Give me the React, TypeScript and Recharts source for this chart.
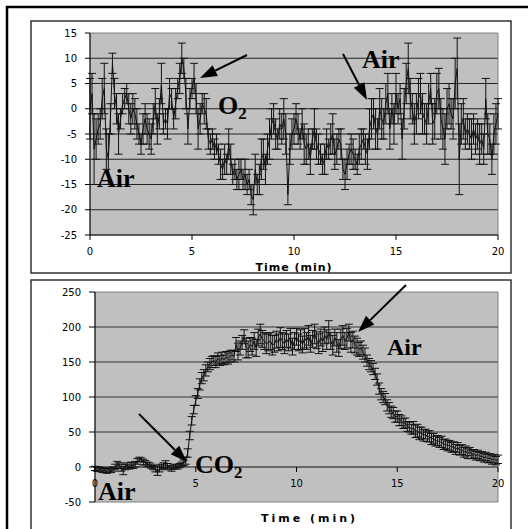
import React from 'react';
import {
  CartesianGrid,
  ErrorBar,
  Label,
  Line,
  LineChart,
  ReferenceArea,
  ReferenceLine,
  XAxis,
  YAxis,
} from 'recharts';

// sampling: one reading every 0.1 min, 0..20 min
const STEP_MIN = 0.1;

const o2Mean = [
  0, 3, -8, -6, -4, -3, 2, 4, -8, -10,
  -2, 9, 3, 0, -5, -2, 1, 2, 3, 0,
  -2, 0, -1, -3, -5, -7, -4, -2, -4, -5,
  -6, -2, 1, -4, -1, 5, -3, -2, -3, 3,
  2, -2, 1, 4, 6, 10, 8, 3, -4, 2,
  4, 6, 2, -4, -2, 1, 0, -1, -6, -7,
  -6, -8, -7, -9, -11, -12, -10, -11, -7, -10,
  -13, -12, -14, -13, -12, -14, -13, -15, -14, -17,
  -18, -12, -15, -14, -10, -9, -12, -8, -6, -3,
  -2, -5, -6, -3, -4, -2, -5, -17, -8, -5,
  -4, -2, -4, -6, -3, -7, -8, -7, -10, -6,
  -4, -7, -8, -9, -11, -10, -7, -8, -6, -5,
  -9, -8, -6, -7, -12, -13, -11, -9, -8, -9,
  -10, -11, -8, -7, -6, -8, -9, -4, -2, -1,
  -4, -5, 0, -2, -3, 1, 3, -4, 0, -3,
  3, 0, 2, -6, 0, 5, 8, 2, 0, -3,
  -1, 2, 3, -1, -2, -3, 1, 4, -3, -2,
  3, 4, -2, -4, -6, 0, 1, -1, -2, 5,
  8, -10, -3, -2, -5, -4, -5, -6, -4, -6,
  -5, -7, -6, -8, 2, -5, -6, -10, -5, -3,
  -1,
];

const o2Err = [
  6, 4, 7, 4, 3, 3, 4, 5, 4, 5,
  3, 2, 3, 3, 4, 2, 2, 2, 2, 3,
  3, 3, 3, 3, 2, 2, 3, 3, 3, 3,
  3, 3, 3, 3, 3, 4, 2, 2, 3, 3,
  2, 2, 3, 2, 3, 3, 2, 3, 3, 2,
  2, 3, 3, 4, 3, 2, 3, 3, 2, 2,
  2, 2, 2, 2, 3, 2, 3, 2, 3, 3,
  2, 2, 2, 3, 2, 2, 3, 2, 2, 2,
  3, 3, 2, 3, 4, 3, 3, 3, 4, 3,
  3, 3, 2, 3, 3, 4, 4, 2, 3, 3,
  3, 3, 3, 2, 3, 4, 3, 3, 3, 2,
  4, 3, 3, 2, 2, 3, 3, 2, 3, 4,
  3, 3, 2, 3, 2, 3, 3, 2, 3, 3,
  2, 2, 3, 3, 2, 3, 3, 4, 4, 3,
  4, 3, 4, 4, 3, 4, 4, 4, 3, 4,
  4, 3, 3, 4, 4, 4, 5, 4, 3, 4,
  4, 4, 4, 4, 3, 4, 4, 3, 4, 4,
  4, 4, 4, 4, 5, 4, 4, 3, 4, 5,
  6, 7, 4, 4, 3, 3, 3, 4, 3, 3,
  3, 4, 3, 3, 4, 4, 3, 3, 4, 4,
  3,
];

const co2Mean = [
  -2, -3, -3, -4, -5, -5, -6, -4, -5, -3,
  0, 3, 2, -1, -5, 0, 2, 0, 3, 2,
  4, 8, 11, 10, 7, 6, 4, 3, 1, -1,
  -3, -6, -2, 0, 2, 4, 1, -1, -3, 0,
  1, 0, 2, 4, 6, 9, 20, 45, 66, 82,
  95, 105, 118, 127, 131, 138, 143, 147, 150, 152,
  150, 155, 152, 156, 153, 157, 155, 158, 160, 158,
  175, 165, 170, 178, 186, 170, 168, 175, 172, 180,
  170, 185, 190, 183, 180, 176, 178, 180, 174, 176,
  182, 178, 185, 180, 176, 183, 178, 184, 172, 180,
  186, 178, 182, 175, 184, 180, 188, 176, 183, 190,
  181, 176, 185, 179, 188, 182, 193, 180, 174, 185,
  178, 170, 183, 188, 180, 184, 192, 178, 182, 175,
  172, 168, 170, 164, 160, 152, 147, 144, 140, 133,
  125, 112, 104, 100, 97, 88, 84, 79, 77, 72,
  72, 67, 66, 62, 63, 58, 57, 54, 56, 51,
  52, 48, 49, 45, 47, 43, 44, 40, 41, 37,
  38, 35, 36, 32, 33, 30, 31, 28, 29, 25,
  28, 24, 25, 21, 23, 19, 22, 18, 19, 16,
  18, 15, 16, 13, 15, 12, 13, 10, 12, 9,
  11,
];

const co2Err = [
  3, 3, 3, 3, 3, 3, 3, 3, 3, 3,
  4, 5, 4, 5, 6, 4, 4, 3, 4, 4,
  4, 4, 3, 3, 4, 3, 3, 3, 3, 3,
  4, 6, 5, 4, 4, 5, 4, 3, 3, 3,
  3, 3, 3, 3, 4, 5, 6, 6, 6, 6,
  7, 7, 8, 8, 8, 8, 7, 8, 8, 7,
  8, 8, 7, 8, 7, 8, 8, 8, 7, 8,
  10, 12, 10, 10, 10, 14, 12, 10, 12, 12,
  12, 12, 14, 12, 12, 14, 12, 12, 14, 12,
  12, 12, 14, 12, 14, 12, 12, 14, 12, 12,
  12, 12, 14, 12, 14, 12, 14, 12, 12, 14,
  12, 14, 12, 14, 12, 14, 16, 12, 14, 12,
  14, 12, 14, 14, 12, 14, 12, 14, 12, 12,
  12, 10, 10, 10, 10, 8, 8, 8, 8, 8,
  8, 8, 8, 8, 8, 8, 8, 8, 8, 8,
  8, 8, 7, 7, 7, 7, 7, 7, 9, 9,
  9, 9, 8, 8, 7, 7, 8, 8, 7, 7,
  7, 7, 8, 7, 7, 7, 7, 7, 7, 7,
  7, 7, 7, 7, 7, 7, 6, 6, 6, 6,
  6, 6, 6, 6, 6, 6, 6, 6, 6, 6,
  6,
];

const timeTicks = [0, 5, 10, 15, 20];
const o2Ticks = [-25, -20, -15, -10, -5, 0, 5, 10, 15];
const o2Grid = [-20, -15, -10, -5, 0, 5, 10];
const co2Ticks = [-50, 0, 50, 100, 150, 200, 250];
const co2Grid = [50, 100, 150, 200];

const o2Data = o2Mean.map((v, i) => ({ t: +(i * STEP_MIN).toFixed(1), v, e: o2Err[i] }));
const co2Data = co2Mean.map((v, i) => ({ t: +(i * STEP_MIN).toFixed(1), v, e: co2Err[i] }));

const TICK_FONT = { fontFamily: 'DejaVu Sans', fontSize: 10, fill: '#000' };
const NOTE_FONT = 'Liberation Serif, Times New Roman, serif';

// bottom panel: x axis crosses at y=0, which sits 50/300 of the plot height above the bottom
const CO2_PLOT_H = 210;
const ZERO_LIFT = (CO2_PLOT_H * 50) / 300;

function ZeroAxisTick(props: any) {
  const { x, y, payload } = props;
  const y0 = y - ZERO_LIFT;
  return (
    <g>
      <line x1={x} y1={y0} x2={x} y2={y0 + 5} stroke="#000" />
      <text x={x} y={y0 + 20} textAnchor="middle" {...TICK_FONT}>
        {payload.value}
      </text>
    </g>
  );
}

function Arrow({ x1, y1, x2, y2 }: { x1: number; y1: number; x2: number; y2: number }) {
  const dx = x2 - x1;
  const dy = y2 - y1;
  const len = Math.hypot(dx, dy);
  const ux = dx / len;
  const uy = dy / len;
  const hl = 17;
  const hw = 6;
  const bx = x2 - ux * hl;
  const by = y2 - uy * hl;
  return (
    <g>
      <line x1={x1} y1={y1} x2={bx} y2={by} stroke="#000" strokeWidth={2} />
      <polygon
        points={`${x2},${y2} ${bx - uy * hw},${by + ux * hw} ${bx + uy * hw},${by - ux * hw}`}
        fill="#000"
      />
    </g>
  );
}

function Note({ x, y, text, sub, size = 26 }: { x: number; y: number; text: string; sub?: string; size?: number }) {
  return (
    <text x={x} y={y} fontFamily={NOTE_FONT} fontWeight="bold" fontSize={size} fill="#000">
      {text}
      {sub && (
        <tspan fontSize={size * 0.65} dy={5}>
          {sub}
        </tspan>
      )}
    </text>
  );
}

export default function App() {
  return (
    <div style={{ position: 'absolute', left: 0, top: 0, width: 528, height: 529, background: '#fff', overflow: 'hidden' }}>
      {/* frames */}
      <svg width={528} height={529} style={{ position: 'absolute', left: 0, top: 0 }}>
        <path d="M7 540 L7 7 L540 7" fill="none" stroke="#000" strokeWidth={2.5} />
        <rect x={31} y={21} width={480} height={252} fill="#fff" stroke="#333" strokeWidth={1.5} />
        <rect x={31} y={280} width={480} height={270} fill="#fff" stroke="#333" strokeWidth={1.5} />
      </svg>

      {/* O2 panel */}
      <div style={{ position: 'absolute', left: 0, top: 0 }}>
        <LineChart width={528} height={280} data={o2Data} margin={{ top: 33, right: 30, bottom: 5, left: 30 }}>
          <CartesianGrid vertical={false} fill="#c0c0c0" fillOpacity={1} stroke="#222" horizontalValues={o2Grid} />
          <ReferenceArea x1={0} x2={20} y1={-25} y2={15} fill="none" stroke="#808080" />
          <XAxis
            dataKey="t"
            type="number"
            domain={[0, 20]}
            ticks={timeTicks}
            interval={0}
            height={40}
            tickSize={5}
            tickMargin={8}
            axisLine={{ stroke: '#000' }}
            tickLine={{ stroke: '#000' }}
            tick={TICK_FONT}
          >
            <Label
              value="Time (min)"
              position="insideBottom"
              offset={4}
              fontFamily="DejaVu Sans"
              fontWeight="bold"
              fontSize={11}
              letterSpacing={1}
              fill="#000"
            />
          </XAxis>
          <YAxis
            type="number"
            domain={[-25, 15]}
            ticks={o2Ticks}
            interval={0}
            allowDataOverflow
            width={60}
            tickSize={5}
            tickMargin={8}
            axisLine={{ stroke: '#000' }}
            tickLine={{ stroke: '#000' }}
            tick={TICK_FONT}
          />
          <Line dataKey="v" type="linear" stroke="#111" strokeWidth={1} dot={false} isAnimationActive={false}>
            <ErrorBar dataKey="e" width={4} stroke="#111" strokeWidth={1} direction="y" isAnimationActive={false} />
          </Line>
        </LineChart>
      </div>

      {/* CO2 panel */}
      <div style={{ position: 'absolute', left: 0, top: 270 }}>
        <LineChart width={528} height={259} data={co2Data} margin={{ top: 22, right: 30, bottom: 0, left: 35 }}>
          <CartesianGrid vertical={false} fill="#c0c0c0" fillOpacity={1} stroke="#333" horizontalValues={co2Grid} />
          <ReferenceArea x1={0} x2={20} y1={-50} y2={250} fill="none" stroke="#808080" />
          <ReferenceLine y={0} stroke="#111" />
          <XAxis
            dataKey="t"
            type="number"
            domain={[0, 20]}
            ticks={timeTicks}
            interval={0}
            height={27}
            tickSize={0}
            tickMargin={0}
            axisLine={false}
            tickLine={false}
            tick={<ZeroAxisTick />}
          >
            <Label
              value="Time (min)"
              position="insideBottom"
              offset={7}
              dx={13}
              fontFamily="DejaVu Sans"
              fontWeight="bold"
              fontSize={11}
              letterSpacing={3}
              fill="#000"
            />
          </XAxis>
          <YAxis
            type="number"
            domain={[-50, 250]}
            ticks={co2Ticks}
            interval={0}
            allowDataOverflow
            width={60}
            tickSize={6}
            tickMargin={8}
            axisLine={{ stroke: '#000' }}
            tickLine={{ stroke: '#000' }}
            tick={TICK_FONT}
          />
          <Line dataKey="v" type="linear" stroke="#111" strokeWidth={1} dot={false} isAnimationActive={false}>
            <ErrorBar dataKey="e" width={4} stroke="#111" strokeWidth={1} direction="y" isAnimationActive={false} />
          </Line>
        </LineChart>
      </div>

      {/* annotations */}
      <svg width={528} height={529} style={{ position: 'absolute', left: 0, top: 0, pointerEvents: 'none' }}>
        <Arrow x1={247} y1={55} x2={200} y2={78} />
        <Arrow x1={343} y1={54} x2={367} y2={100} />
        <Arrow x1={139} y1={414} x2={187} y2={462} />
        <Arrow x1={406} y1={285} x2={358} y2={332} />
        <Note x={218} y={114} text="O" sub="2" />
        <Note x={97} y={187} text="Air" />
        <Note x={362} y={68} text="Air" />
        <Note x={195} y={473} text="CO" sub="2" />
        <Note x={98} y={500} text="Air" />
        <Note x={387} y={355} text="Air" size={24} />
      </svg>
    </div>
  );
}
